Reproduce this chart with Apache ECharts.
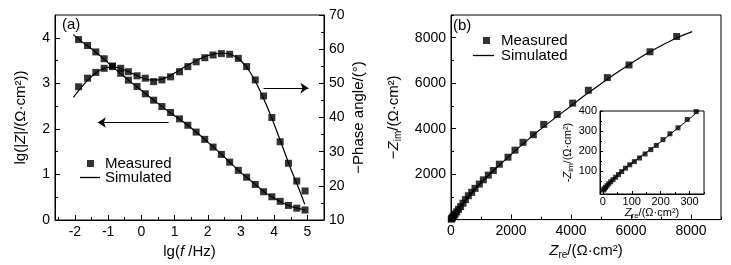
<!DOCTYPE html>
<html>
<head>
<meta charset="utf-8">
<script src="https://cdn.jsdelivr.net/npm/echarts@6/dist/echarts.min.js"></script>
<style>
html, body { margin: 0; padding: 0; background: #fff; }
#chart { width: 731px; height: 265px; }
</style>
</head>
<body>
<div id="chart"></div>
<script>
// (a) Bode plot
const lgF = [-1.89, -1.62, -1.37, -1.12, -0.87, -0.62, -0.39, -0.13, 0.12, 0.37, 0.62, 0.88, 1.15, 1.40,
  1.65, 1.91, 2.16, 2.41, 2.66, 2.92, 3.17, 3.43, 3.68, 3.93, 4.18, 4.43, 4.68, 4.93];
const lgZMeas = [3.96, 3.83, 3.69, 3.54, 3.38, 3.22, 3.07, 2.93, 2.77, 2.63, 2.49, 2.36, 2.22, 2.08,
  1.93, 1.77, 1.60, 1.44, 1.27, 1.09, 0.94, 0.78, 0.62, 0.51, 0.41, 0.32, 0.26, 0.22];
const phaseMeas = [49.0, 51.5, 53.2, 54.4, 54.9, 54.4, 53.4, 52.2, 51.5, 50.5, 51.0, 51.9, 53.4, 54.9,
  56.3, 57.5, 58.3, 58.7, 58.5, 57.3, 54.9, 51.0, 46.3, 40.0, 32.9, 26.6, 21.4, 18.5];

const simF = [-2.05, -1.75, -1.5, -1.25, -1.0, -0.75, -0.5, -0.25, 0, 0.25, 0.5, 0.75, 1.0, 1.25, 1.5,
  1.75, 2.0, 2.25, 2.5, 2.75, 3.0, 3.25, 3.5, 3.75, 4.0, 4.25, 4.5, 4.75, 4.92];
const lgZSim = [4.07, 3.89, 3.76, 3.61, 3.45, 3.29, 3.14, 2.99, 2.85, 2.70, 2.56, 2.42, 2.29, 2.16, 2.02,
  1.87, 1.71, 1.55, 1.38, 1.21, 1.04, 0.89, 0.74, 0.59, 0.48, 0.38, 0.30, 0.25, 0.22];
const phaseSim = [45.9, 49.5, 52.0, 53.8, 54.7, 54.7, 53.9, 52.8, 51.7, 51.0, 51.0, 51.7, 53.0, 54.5, 55.9,
  57.1, 58.1, 58.7, 58.8, 58.2, 56.6, 53.6, 49.3, 44.0, 38.0, 31.5, 25.0, 19.0, 14.6];

// (b) Nyquist plot
const zReMeas = [10, 25, 45, 70, 100, 140, 190, 250, 320, 400, 480, 578, 689, 800, 944, 1078, 1244, 1411,
  1611, 1900, 2133, 2400, 2745, 3090, 3540, 4056, 4578, 5211, 5933, 6633, 7522];
const zImMeas = [20, 45, 80, 125, 180, 250, 340, 450, 570, 720, 880, 1050, 1199, 1374, 1562, 1750, 1956, 2160,
  2437, 2745, 3055, 3400, 3735, 4188, 4626, 5122, 5690, 6245, 6800, 7383, 8053];
const zReSim = [0, 100, 300, 600, 1000, 1500, 2000, 2500, 3000, 3500, 4000, 4500, 5000, 5500, 6000, 6500,
  7000, 7500, 8040];
const zImSim = [0, 180, 540, 1020, 1620, 2260, 2860, 3440, 3990, 4500, 5000, 5500, 5980, 6440, 6870, 7280,
  7650, 7980, 8270];

// inset, high frequency end
const insetReMeas = [2, 5, 9, 14, 20, 27, 35, 44, 54, 65, 78, 93, 109, 127, 146, 166, 185, 208, 232, 260, 292, 323];
const insetImMeas = [5, 11, 18, 26, 36, 46, 57, 69, 82, 97, 114, 131, 147, 165, 185, 207, 228, 257, 286, 316, 358, 397];
const insetReSim = [0, 20, 50, 100, 150, 200, 250, 300, 340];
const insetImSim = [0, 38, 80, 140, 192, 246, 304, 362, 410];

// tick labels
const fTicks = [-2, -1, 0, 1, 2, 3, 4, 5];
const fMinor = [-2.5, -1.5, -0.5, 0.5, 1.5, 2.5, 3.5, 4.5, 5.5];
const lgZTicks = [0, 1, 2, 3, 4];
const lgZMinor = [0.5, 1.5, 2.5, 3.5];
const phaseTicks = [10, 20, 30, 40, 50, 60, 70];
const phaseMinor = [15, 25, 35, 45, 55, 65];
const zReTicks = [0, 2000, 4000, 6000, 8000];
const zImTicks = [2000, 4000, 6000, 8000];
const zMinor = [1000, 3000, 5000, 7000, 9000];
const insetReTicks = [0, 100, 200, 300];
const insetImTicks = [100, 200, 300, 400];
const insetMinor = [50, 150, 250, 350];

const FONT = 'Liberation Sans, Arial, sans-serif';

function zip(a, b) {
  return a.map((v, i) => [v, b[i]]);
}

// plain numbers, no thousands separator
function plain(v) {
  return String(v);
}

function majorAxis(gridIndex, position, min, max, ticks, labels, fontSize, extra) {
  return Object.assign({
    gridIndex: gridIndex,
    type: 'value',
    position: position,
    min: min,
    max: max,
    axisLine: { show: true, onZero: false, lineStyle: { color: '#000', width: 1 } },
    axisTick: { show: true, inside: true, length: 5, customValues: ticks, lineStyle: { color: '#000' } },
    axisLabel: { show: true, customValues: labels, formatter: plain, color: '#000', fontSize: fontSize, fontFamily: FONT, margin: 5 },
    splitLine: { show: false },
    nameLocation: 'middle'
  }, extra || {});
}

function minorAxis(gridIndex, position, min, max, ticks, len) {
  return {
    gridIndex: gridIndex,
    type: 'value',
    position: position,
    min: min,
    max: max,
    axisLine: { show: false, onZero: false },
    axisTick: { show: true, inside: true, length: len, customValues: ticks, lineStyle: { color: '#000' } },
    axisLabel: { show: false },
    splitLine: { show: false }
  };
}

const richMain = {
  a: { fontSize: 15, fontFamily: FONT, color: '#000' },
  i: { fontSize: 15, fontFamily: FONT, fontStyle: 'italic', color: '#000' },
  s: { fontSize: 10, fontFamily: FONT, color: '#000', padding: [8, 0, 0, 0] }
};
const richInset = {
  a: { fontSize: 11, fontFamily: FONT, color: '#000' },
  i: { fontSize: 11, fontFamily: FONT, fontStyle: 'italic', color: '#000' },
  s: { fontSize: 8, fontFamily: FONT, color: '#000', padding: [5, 0, 0, 0] }
};

const chart = echarts.init(document.getElementById('chart'));

const option = {
  animation: false,
  color: ['#000'],
  textStyle: { fontFamily: FONT, color: '#000' },
  grid: [
    { left: 55, top: 15, width: 269, height: 205, show: true, borderColor: '#000', borderWidth: 1, backgroundColor: 'transparent' },
    { left: 451, top: 15, width: 270, height: 205, show: true, borderColor: '#000', borderWidth: 1, backgroundColor: 'transparent' },
    { left: 600, top: 111, width: 104, height: 83, show: true, borderColor: '#000', borderWidth: 1, backgroundColor: '#fff' }
  ],
  xAxis: [
    majorAxis(0, 'bottom', -2.6, 5.5, fTicks, fTicks, 14, {
      name: '{a|lg(}{i|f}{a| /Hz)}', nameGap: 23, nameTextStyle: { rich: richMain }
    }),
    minorAxis(0, 'bottom', -2.6, 5.5, fMinor, 3),
    majorAxis(1, 'bottom', 0, 9000, zReTicks, zReTicks, 14, {
      name: '{i|Z}{s|re}{a|/(Ω·cm²)}', nameGap: 22, nameTextStyle: { rich: richMain }
    }),
    minorAxis(1, 'bottom', 0, 9000, zMinor, 3),
    majorAxis(2, 'bottom', -10, 350, insetReTicks, insetReTicks, 11, {
      name: '{i|Z}{s|re}{a|/(Ω·cm²)}', nameGap: 12, nameTextStyle: { rich: richInset },
      axisTick: { show: true, inside: true, length: 3, customValues: insetReTicks, lineStyle: { color: '#000' } },
      axisLabel: { show: true, customValues: insetReTicks, formatter: plain, color: '#000', fontSize: 11, fontFamily: FONT, margin: 2 }
    }),
    minorAxis(2, 'bottom', -10, 350, insetMinor, 2)
  ],
  yAxis: [
    majorAxis(0, 'left', 0, 4.5, lgZTicks, lgZTicks, 14, {
      name: '{a|lg(|}{i|Z}{a||/(Ω·cm²))}', nameGap: 27, nameRotate: 90, nameTextStyle: { rich: richMain }
    }),
    minorAxis(0, 'left', 0, 4.5, lgZMinor, 3),
    majorAxis(0, 'right', 10, 70, phaseTicks, phaseTicks, 14, {
      name: '−Phase angle/(°)', nameGap: 27, nameRotate: 90,
      nameTextStyle: { fontSize: 15, fontFamily: FONT, color: '#000' }
    }),
    minorAxis(0, 'right', 10, 70, phaseMinor, 3),
    majorAxis(1, 'left', 0, 9000, zReTicks, zImTicks, 14, {
      name: '{a|−}{i|Z}{s|im}{a|/(Ω·cm²)}', nameGap: 48, nameRotate: 90, nameTextStyle: { rich: richMain }
    }),
    minorAxis(1, 'left', 0, 9000, zMinor, 3),
    majorAxis(2, 'left', -15, 400, insetImTicks, insetImTicks, 11, {
      name: '{a|-}{i|Z}{s|im}{a|/(Ω·cm²)}', nameGap: 25, nameRotate: 90, nameTextStyle: { rich: richInset },
      axisTick: { show: true, inside: true, length: 3, customValues: insetImTicks, lineStyle: { color: '#000' } },
      axisLabel: { show: true, customValues: insetImTicks, formatter: plain, color: '#000', fontSize: 11, fontFamily: FONT, margin: 3 }
    }),
    minorAxis(2, 'left', -15, 400, insetMinor, 2)
  ],
  legend: [
    { data: [{ name: 'Measured', icon: 'rect' }], left: 87, top: 156, itemWidth: 7, itemHeight: 7, padding: 0,
      selectedMode: false, textStyle: { fontSize: 15, color: '#000', fontFamily: FONT, padding: [0, 0, 0, 6] } },
    { data: [{ name: 'Simulated', icon: 'rect' }], left: 80, top: 170, itemWidth: 20, itemHeight: 1.3, padding: 0,
      selectedMode: false, textStyle: { fontSize: 15, color: '#000', fontFamily: FONT } },
    { data: [{ name: 'Measured', icon: 'rect' }], left: 483, top: 33, itemWidth: 7, itemHeight: 7, padding: 0,
      selectedMode: false, textStyle: { fontSize: 15, color: '#000', fontFamily: FONT, padding: [0, 0, 0, 6] } },
    { data: [{ name: 'Simulated', icon: 'rect' }], left: 473, top: 48, itemWidth: 21, itemHeight: 1.3, padding: 0,
      selectedMode: false, textStyle: { fontSize: 15, color: '#000', fontFamily: FONT, padding: [0, 0, 0, 2] } }
  ],
  graphic: [
    { type: 'text', left: 62, top: 17, style: { text: '(a)', font: '15px ' + FONT, fill: '#000' } },
    { type: 'text', left: 453, top: 18, style: { text: '(b)', font: '15px ' + FONT, fill: '#000' } }
  ],
  series: [
    {
      name: 'Simulated', type: 'line', xAxisIndex: 0, yAxisIndex: 0, data: zip(simF, lgZSim),
      symbol: 'none', smooth: 0.3, lineStyle: { color: '#000', width: 1.2 },
      markLine: {
        silent: true, symbol: ['none', 'arrow'], symbolSize: 8, label: { show: false },
        lineStyle: { type: 'solid', color: '#000', width: 1 },
        data: [[{ coord: [0.82, 2.14] }, { coord: [-1.31, 2.14] }]]
      }
    },
    {
      name: 'Simulated', type: 'line', xAxisIndex: 0, yAxisIndex: 2, data: zip(simF, phaseSim),
      symbol: 'none', smooth: 0.3, lineStyle: { color: '#000', width: 1.2 },
      markLine: {
        silent: true, symbol: ['none', 'arrow'], symbolSize: 8, label: { show: false },
        lineStyle: { type: 'solid', color: '#000', width: 1 },
        data: [[{ coord: [3.68, 48.6] }, { coord: [5.03, 48.6] }]]
      }
    },
    {
      name: 'Measured', type: 'scatter', xAxisIndex: 0, yAxisIndex: 0, data: zip(lgF, lgZMeas),
      symbol: 'rect', symbolSize: 7, itemStyle: { color: '#000' }
    },
    {
      name: 'Measured', type: 'scatter', xAxisIndex: 0, yAxisIndex: 2, data: zip(lgF, phaseMeas),
      symbol: 'rect', symbolSize: 7, itemStyle: { color: '#000' }
    },
    {
      name: 'Simulated', type: 'line', xAxisIndex: 2, yAxisIndex: 4, data: zip(zReSim, zImSim),
      symbol: 'none', smooth: 0.3, lineStyle: { color: '#000', width: 1.2 }
    },
    {
      name: 'Measured', type: 'scatter', xAxisIndex: 2, yAxisIndex: 4, data: zip(zReMeas, zImMeas),
      symbol: 'rect', symbolSize: 7, itemStyle: { color: '#000' }
    },
    {
      name: 'Simulated', type: 'line', xAxisIndex: 4, yAxisIndex: 6, data: zip(insetReSim, insetImSim),
      symbol: 'none', smooth: 0.3, lineStyle: { color: '#000', width: 1 }
    },
    {
      name: 'Measured', type: 'scatter', xAxisIndex: 4, yAxisIndex: 6, data: zip(insetReMeas, insetImMeas),
      symbol: 'rect', symbolSize: 5, itemStyle: { color: '#000' }
    }
  ]
};

chart.setOption(option);
</script>
</body>
</html>
